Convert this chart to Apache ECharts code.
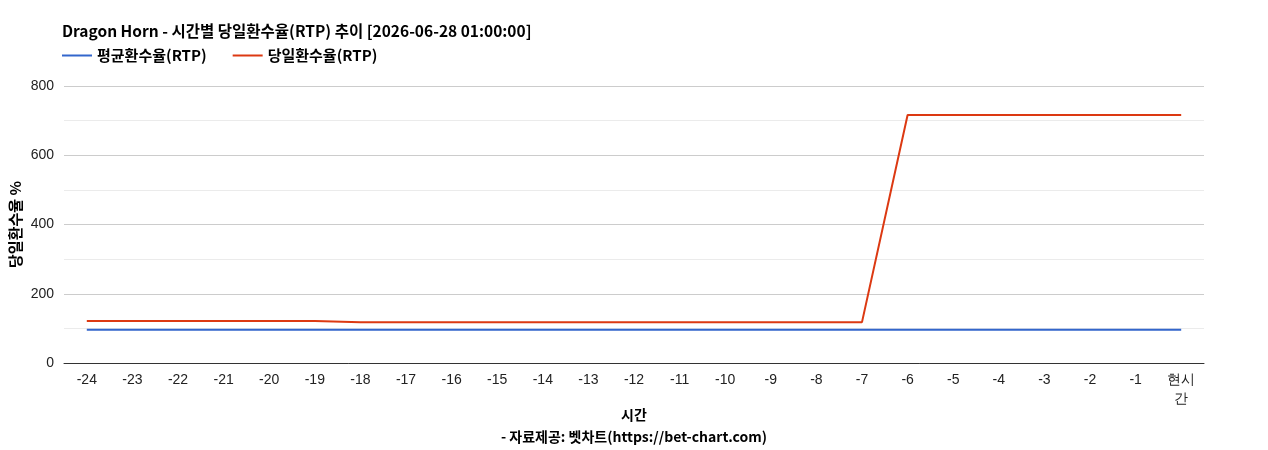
<!DOCTYPE html>
<html><head><meta charset="utf-8">
<script src="https://cdn.jsdelivr.net/npm/echarts@6/dist/echarts.min.js"></script>
<style>html,body{margin:0;padding:0;background:#fff}#c{width:1268px;height:450px}</style>
</head><body><div id="c"></div>
<script>
const categories = ['-24','-23','-22','-21','-20','-19','-18','-17','-16','-15','-14','-13','-12','-11','-10','-9','-8','-7','-6','-5','-4','-3','-2','-1','현시간'];
const avgRtp = [96,96,96,96,96,96,96,96,96,96,96,96,96,96,96,96,96,96,96,96,96,96,96,96,96];
const dayRtp = [121,121,121,121,121,121,118,118,118,118,118,118,118,118,118,118,118,118,716,716,716,716,716,716,716];
const titleText = 'Dragon Horn - 시간별 당일환수율(RTP) 추이 [2026-06-28 01:00:00]';
const seriesNames = ['평균환수율(RTP)', '당일환수율(RTP)'];

const chart = echarts.init(document.getElementById('c'));
const kr = '"Noto Sans CJK KR", "Noto Sans", sans-serif';
chart.setOption({
  animation: false,
  title: {
    text: titleText, left: 57, top: 18,
    textStyle: { fontFamily: kr, fontSize: 15.5, fontWeight: 'bold', color: '#000' }
  },
  legend: {
    left: 57, top: 43, itemWidth: 30, itemHeight: 2, itemGap: 26,
    icon: 'rect',
    textStyle: { fontFamily: kr, fontSize: 15, fontWeight: 'bold', color: '#000' },
    data: seriesNames
  },
  grid: { left: 64, right: 64, top: 86, bottom: 87, containLabel: false, outerBoundsMode: 'none' },
  xAxis: {
    type: 'category', data: categories, boundaryGap: true,
    name: '시간\n- 자료제공: 벳차트(https://bet-chart.com)',
    nameLocation: 'middle', nameGap: 41, nameMoveOverlap: false,
    nameTextStyle: { fontFamily: kr, fontSize: 14, fontWeight: 'bold', color: '#000', lineHeight: 22 },
    axisLine: { lineStyle: { color: '#333', width: 1 } },
    axisTick: { show: false },
    axisLabel: {
      interval: 0, color: '#222', fontSize: 14, fontFamily: '"Liberation Sans", Arial, sans-serif', margin: 8,
      formatter: v => v === '현시간' ? '현시\n간' : v, lineHeight: 19
    }
  },
  yAxis: {
    type: 'value', min: 0, max: 800, interval: 200,
    name: '당일환수율 %', nameLocation: 'middle', nameGap: 41, nameRotate: 90, nameMoveOverlap: false,
    nameTextStyle: { fontFamily: kr, fontSize: 15, fontWeight: 'bold', color: '#000' },
    axisLine: { show: false }, axisTick: { show: false },
    axisLabel: { color: '#222', fontSize: 14, fontFamily: '"Liberation Sans", Arial, sans-serif', margin: 10 },
    splitLine: { lineStyle: { color: '#cccccc', width: 1 } },
    minorTick: { show: false, splitNumber: 2 },
    minorSplitLine: { show: true, lineStyle: { color: '#ebebeb', width: 1 } }
  },
  series: [
    { name: seriesNames[0], type: 'line', data: avgRtp, showSymbol: false, symbol: 'none',
      lineStyle: { color: '#3366cc', width: 2 }, itemStyle: { color: '#3366cc' } },
    { name: seriesNames[1], type: 'line', data: dayRtp, showSymbol: false, symbol: 'none',
      lineStyle: { color: '#dc3912', width: 2 }, itemStyle: { color: '#dc3912' } }
  ]
});
</script></body></html>
